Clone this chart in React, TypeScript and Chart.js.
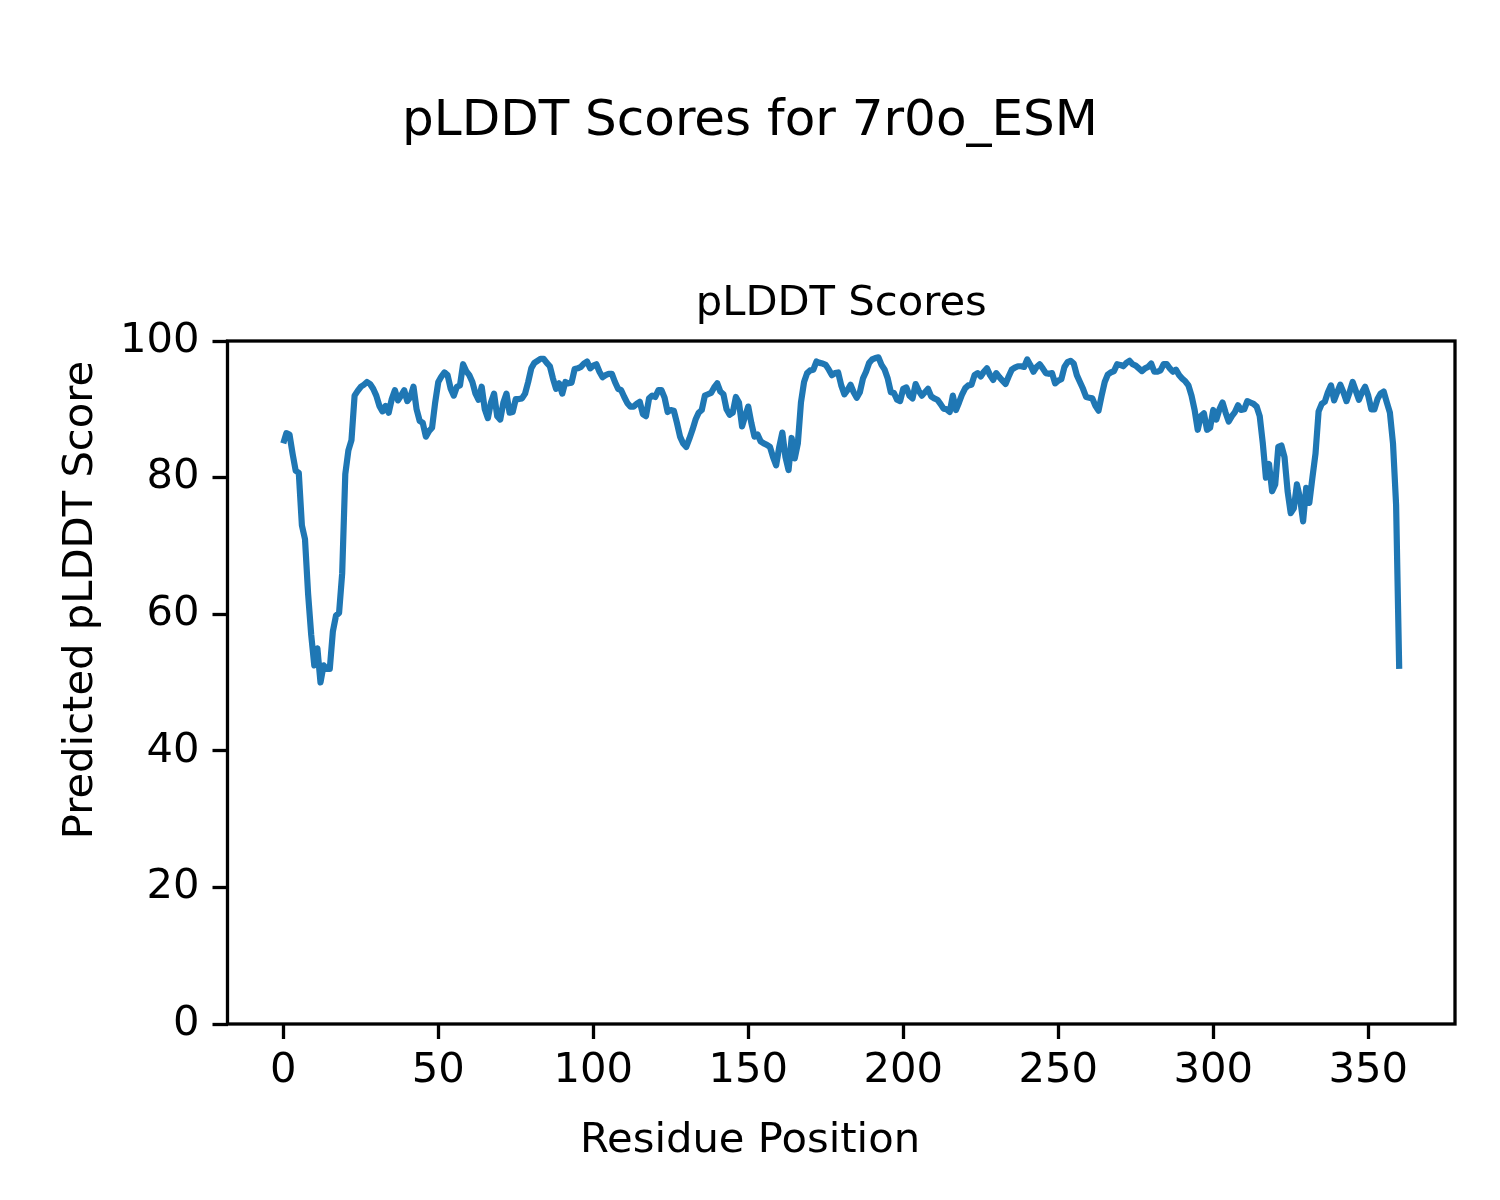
import React, { useEffect, useRef } from 'react';
import { Chart, registerables } from 'chart.js';

Chart.register(...registerables);

const figureTitle = 'pLDDT Scores for 7r0o_ESM';
const axesTitle = 'pLDDT Scores';
const xLabel = 'Residue Position';
const yLabel = 'Predicted pLDDT Score';

const xTicks = [0, 50, 100, 150, 200, 250, 300, 350];
const yTicks = [0, 20, 40, 60, 80, 100];

// pLDDT score per residue position (0..360)
const scores = [
  85, 86.5, 86.3, 83.5, 81, 80.7, 73, 71, 63, 57,
  52.5, 55, 50, 52.5, 52, 52, 57.5, 59.8, 60.2, 66,
  80.5, 84, 85.5, 92, 92.7, 93.3, 93.6, 94, 93.7, 93,
  92, 90.5, 89.7, 90.5, 89.5, 91.5, 92.8, 91.3, 92, 92.8,
  91.2, 91.8, 93.3, 90, 88.3, 88, 86, 86.8, 87.3, 91,
  94, 94.8, 95.4, 95, 93, 92, 93.3, 93.5, 96.6, 95.6,
  95, 94, 92.3, 91.4, 93.3, 90, 88.7, 91, 92.3, 89,
  88.5, 91, 92.3, 89.5, 89.6, 91.5, 91.5, 91.6, 92.3, 94,
  96, 96.8, 97.1, 97.4, 97.4, 96.8, 96.3, 94.5, 93, 93.8,
  92.3, 94, 93.8, 93.9, 95.9, 96, 96.2, 96.7, 97, 96,
  96.4, 96.6, 95.5, 94.7, 95, 95.2, 95.2, 94, 93, 92.8,
  91.8, 90.9, 90.4, 90.4, 90.8, 91.1, 89.3, 89, 91.6, 92,
  91.8, 92.8, 92.8, 91.7, 89.6, 89.9, 89.8, 88, 86, 85,
  84.5, 85.7, 87, 88.5, 89.5, 89.9, 92, 92.2, 92.4, 93.2,
  93.8, 92.6, 92.2, 90, 89.2, 89.5, 91.8, 91, 87.5, 89,
  90.4, 88, 86, 86.3, 85.3, 85, 84.8, 84.5, 83, 81.8,
  84.5, 86.6, 83, 81.1, 85.8, 82.8, 85, 91, 94, 95.3,
  95.7, 95.8, 97, 96.8, 96.7, 96.5, 95.8, 95, 95.3, 95.4,
  93.5, 92.2, 92.8, 93.6, 92.5, 91.7, 92.5, 94.5, 95.5, 96.8,
  97.3, 97.5, 97.6, 96.5, 95.8, 94.5, 92.5, 92.4, 91.4, 91.2,
  93, 93.2, 92, 91.6, 93.7, 92.7, 92, 92.5, 93, 91.9,
  91.6, 91.4, 90.8, 90.1, 90, 89.6, 92, 89.9, 91, 92.2,
  93.1, 93.5, 93.6, 95, 95.3, 94.8, 95.5, 96, 95, 94.3,
  95.3, 94.7, 94.2, 93.7, 94.8, 95.8, 96.1, 96.3, 96.3, 96.2,
  97.3, 96.5, 95.5, 96.2, 96.6, 96, 95.3, 95.2, 95.3, 93.8,
  94.2, 94.4, 96.2, 96.9, 97.1, 96.7, 95, 94, 93, 91.8,
  91.7, 91.6, 90.5, 89.8, 92, 94, 95.1, 95.4, 95.6, 96.6,
  96.5, 96.3, 96.8, 97.1, 96.6, 96.4, 96, 95.6, 96, 96.2,
  96.7, 95.5, 95.5, 95.7, 96.6, 96.6, 96, 95.5, 95.8, 95,
  94.5, 94.1, 93.5, 92, 89.9, 87, 89, 89.4, 87, 87.3,
  89.9, 88.5, 90, 91, 89.5, 88.2, 89, 89.6, 90.6, 89.9,
  90, 91.2, 91, 90.8, 90.4, 89, 85, 80, 82, 78,
  79, 84.5, 84.7, 83, 78, 74.8, 75.5, 79, 77, 73.6,
  78.5, 76.3, 80, 83.5, 89.7, 90.8, 91.1, 92.5, 93.5, 91.3,
  92.5, 93.6, 92.5, 91.2, 92.5, 94, 92.7, 91.4, 92.5, 93.3,
  92, 90, 90, 91.5, 92.3, 92.6, 91, 89.5, 85, 76,
  52,
];

const FONT = "'DejaVu Sans', 'Liberation Sans', sans-serif";

const textPlugin = {
  id: 'mplText',
  afterDraw(chart: any) {
    const { ctx, chartArea } = chart;
    ctx.save();
    // frame
    ctx.strokeStyle = '#000';
    ctx.lineWidth = 3.3;
    ctx.strokeRect(chartArea.left, chartArea.top, chartArea.right - chartArea.left, chartArea.bottom - chartArea.top);
    ctx.fillStyle = '#000';
    ctx.textBaseline = 'alphabetic';
    ctx.textAlign = 'center';
    ctx.font = `50px ${FONT}`;
    ctx.fillText(figureTitle, 750, 135);
    ctx.font = `41.7px ${FONT}`;
    ctx.fillText(axesTitle, (chartArea.left + chartArea.right) / 2, 315);
    ctx.fillText(xLabel, 750, 1152);
    ctx.translate(92, 600);
    ctx.rotate(-Math.PI / 2);
    ctx.fillText(yLabel, 0, 0);
    ctx.restore();
  },
};

export default function App() {
  const canvasRef = useRef<HTMLCanvasElement | null>(null);

  useEffect(() => {
    const canvas = canvasRef.current;
    if (!canvas) return;
    const points = scores.map((v, i) => ({ x: i, y: v }));
    const tickFont = { family: FONT, size: 41.7 };
    const chart = new Chart(canvas, {
      type: 'line',
      data: {
        datasets: [
          {
            data: points,
            borderColor: '#1f77b4',
            borderWidth: 6.2,
            pointRadius: 0,
            tension: 0,
            fill: false,
            borderJoinStyle: 'round',
            borderCapStyle: 'butt',
          },
        ],
      },
      options: {
        animation: false,
        responsive: false,
        devicePixelRatio: 1,
        layout: { padding: { left: 0, right: 45, top: 341, bottom: 0 } },
        plugins: { legend: { display: false }, tooltip: { enabled: false }, title: { display: false } },
        scales: {
          x: {
            type: 'linear',
            min: -18,
            max: 378,
            afterFit: (scale: any) => {
              scale.height = 176;
            },
            afterBuildTicks: (scale: any) => {
              scale.ticks = xTicks.map((v) => ({ value: v }));
            },
            border: { display: false },
            grid: {
              display: true,
              drawOnChartArea: false,
              drawTicks: true,
              tickLength: 15,
              tickWidth: 3.3,
              tickColor: '#000',
            },
            ticks: {
              color: '#000',
              font: tickFont,
              padding: 7,
              maxRotation: 0,
              autoSkip: false,
              callback: (v: any) => String(v),
            },
          },
          y: {
            type: 'linear',
            min: 0,
            max: 100,
            afterFit: (scale: any) => {
              scale.width = 227.5;
            },
            afterBuildTicks: (scale: any) => {
              scale.ticks = yTicks.map((v) => ({ value: v }));
            },
            border: { display: false },
            grid: {
              display: true,
              drawOnChartArea: false,
              drawTicks: true,
              tickLength: 15,
              tickWidth: 3.3,
              tickColor: '#000',
            },
            ticks: {
              color: '#000',
              font: tickFont,
              padding: 13,
              autoSkip: false,
              callback: (v: any) => String(v),
            },
          },
        },
      },
      plugins: [textPlugin],
    } as any);
    return () => chart.destroy();
  }, []);

  return (
    <div style={{ position: 'absolute', left: 0, top: 0, width: 1500, height: 1200, background: '#fff' }}>
      <canvas ref={canvasRef} width={1500} height={1200} style={{ width: 1500, height: 1200, display: 'block' }} />
    </div>
  );
}
